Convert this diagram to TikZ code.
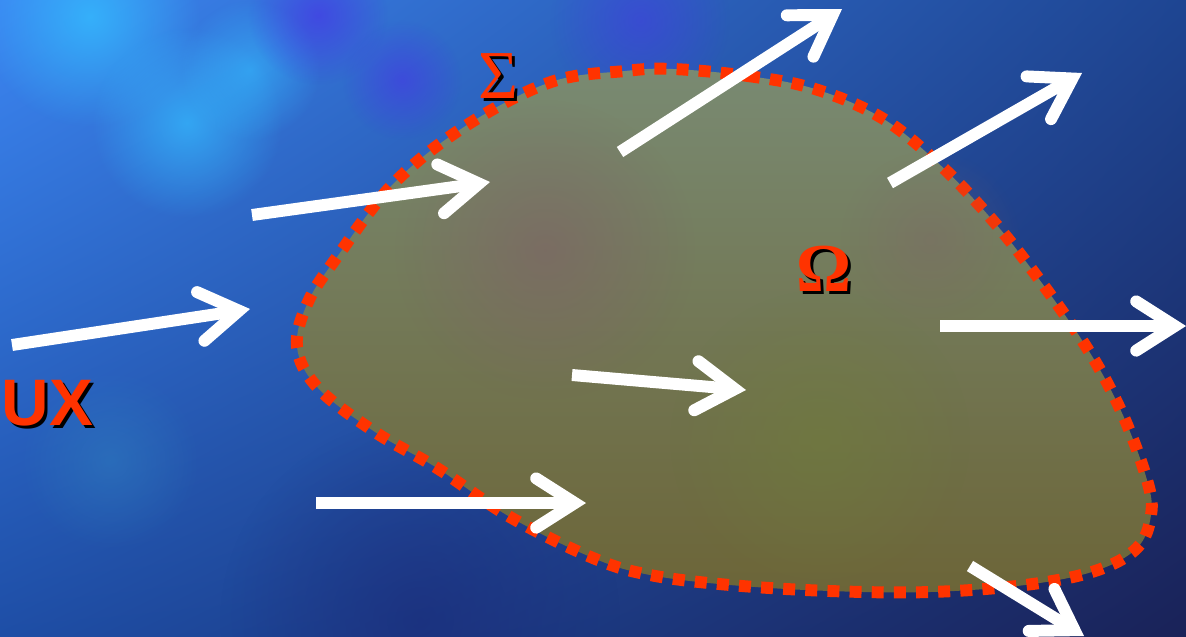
\documentclass[tikz,border=0pt]{standalone}
\usepackage{fontspec}
\newfontfamily\fluxsans{Liberation Sans}
\newfontfamily\fluxserif{Liberation Serif}
\usetikzlibrary{arrows.meta, fadings, shadings}
\usepackage{xcolor}
\definecolor{bgtopleft}{HTML}{3C86F2}
\definecolor{bgtopright}{HTML}{1E4592}
\definecolor{bgbotleft}{HTML}{1E4EA6}
\definecolor{bgbotright}{HTML}{1A2258}
\definecolor{glowcyan}{HTML}{34BCFF}
\definecolor{glowviolet}{HTML}{4638E6}
\definecolor{glowteal}{HTML}{2F7FC0}
\definecolor{glownavy}{HTML}{1B2A78}
\definecolor{blobtop}{HTML}{798A72}
\definecolor{blobbottom}{HTML}{6C6538}
\definecolor{blobmauve}{HTML}{7E6266}
\definecolor{blobolive}{HTML}{6E7E3A}
\definecolor{fluxred}{HTML}{FF3300}
\tikzfading[name=softglow, inner color=transparent!0, outer color=transparent!100]

\begin{document}
\begin{tikzpicture}[x=0.01cm, y=-0.01cm,
    flux/.style={white, line width=3.4pt,
      -{Straight Barb[length=11pt, width=14pt, line cap=round]}},
    glow/.style={path fading=softglow},
    border/.style={fluxred, line width=3.4pt, dash pattern=on 3.4pt off 2.9pt},
    tag/.style={inner sep=0pt, text=fluxred, font=\fluxserif\fontsize{19.5}{20}\selectfont},
    tagshadow/.style={tag, text=black}]
  \useasboundingbox (0,0) rectangle (1186,636);

  % sky
  \shade[upper left=bgtopleft, upper right=bgtopright,
         lower left=bgbotleft, lower right=bgbotright] (0,0) rectangle (1186,636);
  \fill[glowcyan, glow, opacity=0.8] (90,17) circle [radius=110];
  \fill[glowcyan, glow, opacity=0.7] (187,123) circle [radius=95];
  \fill[glowcyan, glow, opacity=0.6] (250,70) circle [radius=70];
  \fill[glowviolet, glow, opacity=0.7] (318,15) circle [radius=70];
  \fill[glowviolet, glow, opacity=0.6] (402,80) circle [radius=60];
  \fill[glowviolet, glow, opacity=0.5] (640,20) circle [radius=90];
  \fill[glowteal, glow, opacity=0.5] (110,460) circle [radius=90];
  \fill[glownavy, glow, opacity=0.6] (420,620) circle [radius=200];

  % region Omega
  \draw[border, top color=blobtop, bottom color=blobbottom]
    plot[smooth cycle, tension=0.6] coordinates {
      (673,69) (748,76) (815,89) (882,118) (938,163) (988,215) (1033,271)
      (1087,348) (1122,413) (1147,480) (1151,515) (1137,548) (1095,571)
      (1025,585) (930,592) (830,591) (730,585) (650,575) (593,558)
      (510,517) (437,468) (375,432) (318,388) (297,347) (308,302)
      (337,257) (394,183) (467,125) (551,82) (625,71)};
  \fill[blobmauve, glow, opacity=0.6] (545,250) circle [radius=150];
  \fill[blobmauve, glow, opacity=0.35] (930,240) circle [radius=90];
  \fill[blobolive, glow, opacity=0.5] (820,440) circle [radius=150];

  % flux arrows
  \draw[flux] (12,345) -- (250,309);
  \draw[flux] (252,215) -- (490,182);
  \draw[flux] (620,152) -- (842,9);
  \draw[flux] (890,183) -- (1082,73);
  \draw[flux] (940,326) -- (1186,326);
  \draw[flux] (572,375) -- (746,390);
  \draw[flux] (316,503) -- (586,503);
  \draw[flux] (970,566) -- (1084,636);

  % labels
  \node[tagshadow, anchor=base] (sigma shadow) at (501,101) {Σ};
  \node[tag, anchor=base] (sigma) at (498,98) {Σ};
  \node[tagshadow, anchor=base] (omega shadow) at (827,294) {\bfseries Ω};
  \node[tag, anchor=base] (omega) at (824,291) {\bfseries Ω};
  \node[tagshadow, anchor=base west, font=\fluxsans\bfseries\fontsize{18.7}{19}\selectfont]
    (flux shadow) at (4,428) {UX};
  \node[tag, anchor=base west, font=\fluxsans\bfseries\fontsize{18.7}{19}\selectfont]
    (flux) at (1,425) {UX};
\end{tikzpicture}
\end{document}
